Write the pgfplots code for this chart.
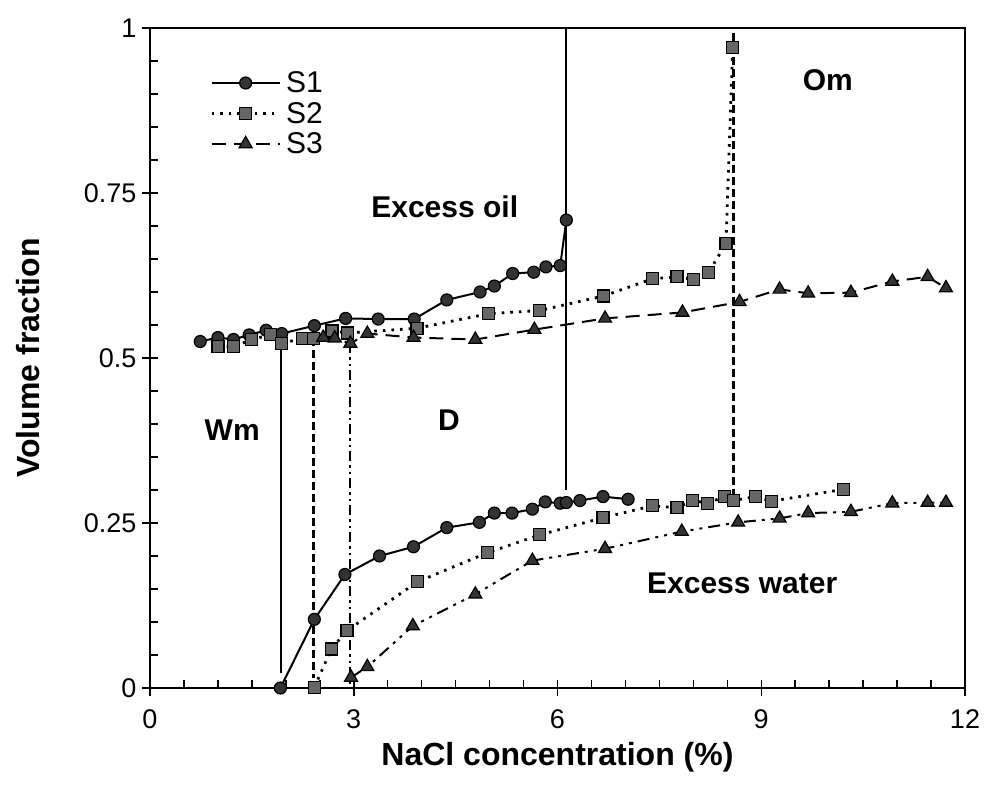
\documentclass[border=0pt]{standalone}
\usepackage{pgfplots}
\pgfplotsset{compat=1.18}
\usepackage{fontspec}
\setmainfont{Liberation Sans}
\begin{document}
\begin{tikzpicture}
\begin{axis}[
    at={(0pt,0pt)}, anchor=south west,
    width=815pt, height=660pt, scale only axis,
    xmin=0, xmax=12, ymin=0, ymax=1,
    xtick={0,3,6,9,12},
    ytick={0,0.25,0.5,0.75,1},
    yticklabels={0,0.25,0.5,0.75,1},
    minor x tick num=5,
    minor y tick num=4,
    tick pos=left,
    tick align=inside,
    major tick length=8pt, minor tick length=8pt,
    extra x ticks={0,3,6,9,12}, extra x tick labels={},
    extra y ticks={0,0.25,0.5,0.75,1}, extra y tick labels={},
    extra tick style={tick align=outside, major tick length=8pt},
    axis line style={line width=1.8pt},
    every tick/.style={line width=1.5pt, black},
    /pgf/number format/assume math mode=true,
    tick label style={font=\fontsize{27}{30}\selectfont},
    xticklabel style={yshift=-18pt},
    yticklabel style={xshift=-10pt},
    xlabel={\bfseries NaCl concentration (\%)},
    ylabel={\bfseries Volume fraction},
    label style={font=\fontsize{32}{36}\selectfont},
    xlabel style={yshift=1pt},
    ylabel style={yshift=29pt},
    legend style={draw=none, fill=none, at={(0.07,0.94)}, anchor=north west,
        font=\fontsize{30}{32}\selectfont, row sep=4pt,
        nodes={inner xsep=5pt}},
    legend cell align=left,
    legend image code/.code={\draw[mark repeat=2,mark phase=2,#1] plot coordinates {(0pt,0pt) (34pt,0pt) (68pt,0pt)};},
]

% S1 upper
\addplot[black, line width=2pt, mark=*, mark size=6pt,
    mark options={fill=black!80, draw=black, line width=1.2pt, solid}]
coordinates {
    (0.74,0.525)(1.0,0.531)(1.23,0.528)(1.46,0.535)(1.71,0.542)(1.94,0.537)
    (2.42,0.549)(2.88,0.56)(3.36,0.559)(3.89,0.559)(4.37,0.588)(4.86,0.6)
    (5.07,0.609)(5.34,0.628)(5.65,0.63)(5.83,0.638)(6.04,0.64)(6.13,0.709)
};
\addlegendentry{S1}

% S2 upper
\addplot[black, line width=2.8pt, dash pattern=on 2.6pt off 6pt, mark=square*, mark size=6pt,
    mark options={fill=black!60, draw=black, line width=1.2pt, solid}]
coordinates {
    (1.0,0.517)(1.23,0.517)(1.5,0.528)(1.77,0.535)(1.94,0.522)(2.24,0.53)
    (2.41,0.53)(2.68,0.541)(2.91,0.538)(3.93,0.545)(4.98,0.567)(5.74,0.572)
    (6.68,0.594)(7.4,0.62)(7.76,0.623)(8.0,0.619)(8.22,0.629)(8.48,0.673)(8.58,0.971)
};
\addlegendentry{S2}

% S3 upper
\addplot[black, line width=2pt, dash pattern=on 14pt off 8pt, mark=triangle*, mark size=7.5pt,
    mark options={fill=black!80, draw=black, line width=1.2pt, solid}]
coordinates {
    (2.55,0.531)(2.72,0.53)(2.95,0.522)(3.2,0.537)(3.88,0.531)(4.79,0.528)
    (5.66,0.543)(6.7,0.56)(7.84,0.569)(8.68,0.585)(9.27,0.604)(9.69,0.598)
    (10.32,0.599)(10.93,0.616)(11.45,0.623)(11.72,0.606)
};
\addlegendentry{S3}

% S1 lower
\addplot[black, line width=2pt, mark=*, mark size=6pt, forget plot,
    mark options={fill=black!80, draw=black, line width=1.2pt, solid}]
coordinates {
    (1.92,0.0)(2.42,0.104)(2.87,0.172)(3.38,0.2)(3.88,0.214)(4.37,0.243)
    (4.85,0.251)(5.07,0.265)(5.33,0.265)(5.63,0.271)(5.82,0.282)(6.04,0.28)
    (6.13,0.281)(6.33,0.284)(6.67,0.29)(7.04,0.286)
};

% S2 lower
\addplot[black, line width=2.8pt, dash pattern=on 2.6pt off 6pt, mark=square*, mark size=6pt, forget plot,
    mark options={fill=black!60, draw=black, line width=1.2pt, solid}]
coordinates {
    (2.42,0.001)(2.67,0.059)(2.9,0.087)(3.94,0.161)(4.97,0.205)(5.74,0.232)
    (6.67,0.258)(7.4,0.276)(7.76,0.273)(7.99,0.284)(8.21,0.28)(8.46,0.29)
    (8.59,0.284)(8.91,0.29)(9.15,0.283)(10.21,0.301)
};

% S3 lower
\addplot[black, line width=2pt, dash pattern=on 12pt off 6pt on 3pt off 6pt on 3pt off 6pt,
    mark=triangle*, mark size=7.5pt, forget plot,
    mark options={fill=black!80, draw=black, line width=1.2pt, solid}]
coordinates {
    (2.96,0.016)(3.2,0.032)(3.87,0.094)(4.79,0.142)(5.63,0.193)(6.7,0.211)
    (7.83,0.237)(8.66,0.251)(9.27,0.257)(9.69,0.265)(10.32,0.267)(10.93,0.28)
    (11.45,0.281)(11.72,0.281)
};

% phase boundaries
\addplot[black, line width=2pt, forget plot] coordinates {(1.93,0.537)(1.93,0.022)};
\addplot[black, line width=2pt, forget plot] coordinates {(6.13,0.30)(6.13,1.0)};
\addplot[black, line width=2.8pt, dash pattern=on 8pt off 4pt, forget plot] coordinates {(2.41,0.53)(2.41,0.015)};
\addplot[black, line width=2.8pt, dash pattern=on 8pt off 4pt, forget plot] coordinates {(8.59,0.29)(8.59,1.0)};
\addplot[black, line width=2pt, dash pattern=on 10pt off 4pt on 2.5pt off 4pt on 2.5pt off 4pt, forget plot]
    coordinates {(2.94,0.522)(2.94,0.0)};

\node[font=\fontsize{30}{32}\selectfont\bfseries] at (axis cs:4.34,0.729) {Excess oil};
\node[font=\fontsize{30}{32}\selectfont\bfseries] at (axis cs:9.98,0.921) {Om};
\node[font=\fontsize{30}{32}\selectfont\bfseries] at (axis cs:1.21,0.391) {Wm};
\node[font=\fontsize{30}{32}\selectfont\bfseries] at (axis cs:4.40,0.406) {D};
\node[font=\fontsize{30}{32}\selectfont\bfseries] at (axis cs:8.72,0.159) {Excess water};
\end{axis}
\pgfresetboundingbox
\path[use as bounding box] (-150pt,-103pt) rectangle (834pt,688pt);
\end{tikzpicture}
\end{document}
